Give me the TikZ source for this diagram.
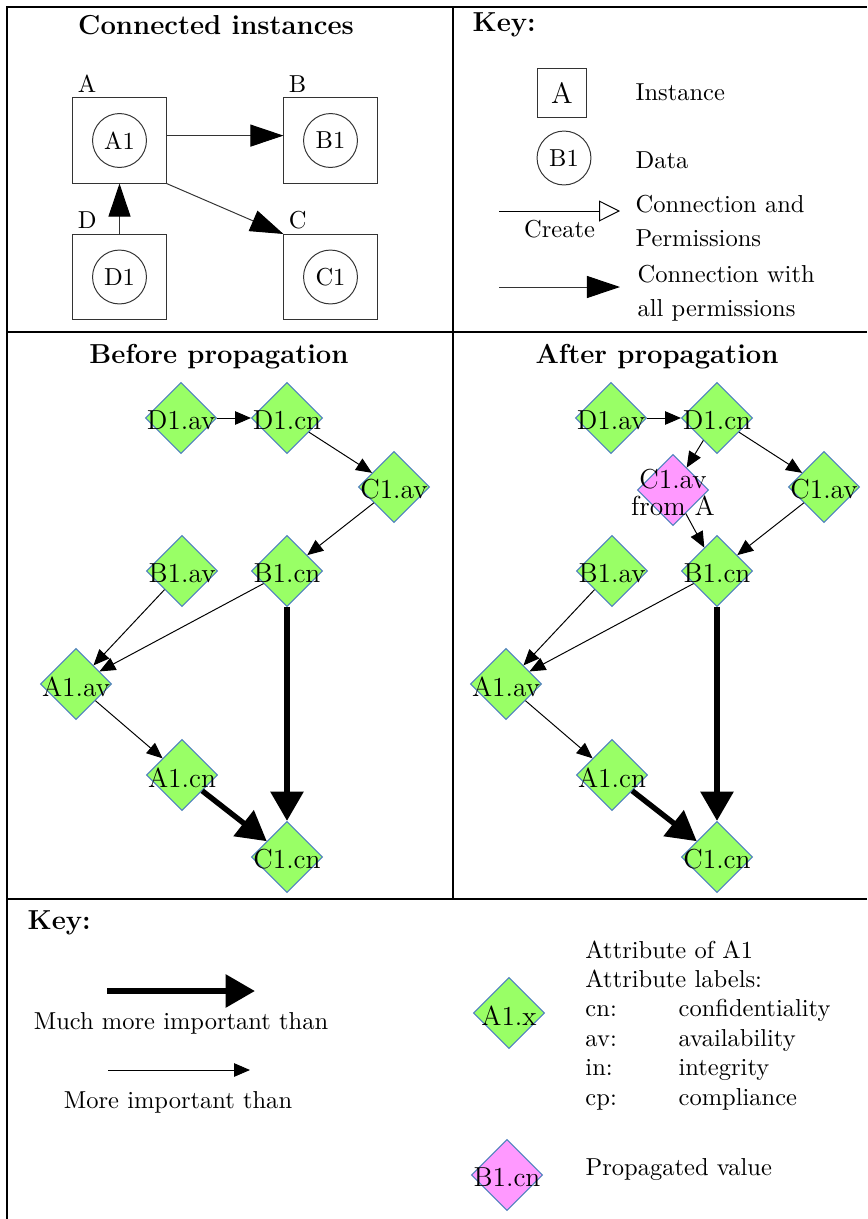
\documentclass[tikz,border=0pt]{standalone}
\usepackage{xcolor}
\usepackage{tikz}
\usetikzlibrary{arrows.meta,shapes.geometric}
\definecolor{attrgreen}{HTML}{99FF66}
\definecolor{attrpink}{HTML}{FF99FF}
\definecolor{attrline}{HTML}{4F81BD}
\tikzset{
  paneltitle/.style={font=\bfseries\fontsize{11.2}{13}\selectfont},
  instbox/.style={draw=black!80, minimum width=38pt, minimum height=34.7pt},
  databox/.style={circle, draw=black!80, minimum size=22pt, inner sep=0pt},
  attr/.style={diamond, draw=attrline, fill=attrgreen, minimum width=29pt,
    minimum height=29pt, inner sep=0pt,
    label={[align=center, inner sep=0pt, yshift=-1pt,
      font=\fontsize{11.2}{11}\selectfont]center:#1}},
  propattr/.style={attr={#1}, fill=attrpink},
  morearrow/.style={-{Triangle[length=6.5pt,width=5.5pt]}, thin},
  mucharrow/.style={-{Triangle[length=12pt,width=13pt]}, line width=2.6pt},
  connarrow/.style={-{Triangle[length=13.5pt,width=9pt,color=black]}, draw=black!80}
}

\begin{document}
\begin{tikzpicture}[x=0.408pt, y=-0.408pt]
  \useasboundingbox (0,0) rectangle (867,1219);

  % table lines
  \draw[line width=0.8pt] (7,1219) -- (7,7) -- (867,7);
  \draw[line width=0.8pt] (7,332) -- (867,332);
  \draw[line width=0.8pt] (7,899) -- (867,899);
  \draw[line width=0.8pt] (453,7) -- (453,899);

  % connected instances
  \node[paneltitle] (conntitle) at (216,25) {Connected instances};
  \node[instbox, label={[anchor=south west, inner sep=2pt]north west:A}] (A) at (119.5,140.5) {};
  \node[instbox, label={[anchor=south west, inner sep=2pt]north west:B}] (B) at (330.5,140.5) {};
  \node[instbox, label={[anchor=south west, inner sep=2pt]north west:C}] (C) at (330.5,277) {};
  \node[instbox, label={[anchor=south west, inner sep=2pt]north west:D}] (D) at (119.5,277) {};
  \node[databox] (A1) at (A) {A1};
  \node[databox] (B1) at (B) {B1};
  \node[databox] (C1) at (C) {C1};
  \node[databox] (D1) at (D) {D1};

  \draw[connarrow] ([yshift=2pt]A.east) -- ([yshift=2pt]B.west);
  \draw[connarrow] (D.north) -- (A.south);
  \draw[connarrow] (A.south east) -- (C.north west);

  % key for instances
  \node[paneltitle, anchor=west] (keytitle) at (464,25) {Key:};
  \node[draw=black!80, minimum size=20pt, font=\large] (keyinst) at (562,93) {A};
  \node[anchor=west] (keyinsttext) at (627,92) {Instance};
  \node[databox] (keydata) at (564,158) {B1};
  \node[anchor=west] (keydatatext) at (627,160) {Data};
  \coordinate (keycs) at (499,211);
  \coordinate (keyce) at (620,211);
  \draw[-{Triangle[open,length=8.5pt,width=8.5pt]}] (keycs) -- node[below, inner sep=3.5pt] {Create} (keyce);
  \node[anchor=west, align=left] (keyconn) at (627,221) {Connection and\\[1.5pt]Permissions};
  \coordinate (keyfs) at (499,287);
  \coordinate (keyfe) at (620,287);
  \draw[connarrow] (keyfs) -- (keyfe);
  \node[anchor=west, align=left] (keyall) at (629,293) {Connection with\\[2pt]all permissions};

  % before propagation
  \node[paneltitle] (beftitle) at (219,357) {Before propagation};
  \node[attr=D1.av] (bdav) at (181,418) {};
  \node[attr=D1.cn] (bdcn) at (287,418) {};
  \node[attr=C1.av] (bcav) at (394,487) {};
  \node[attr=B1.av] (bbav) at (182,571) {};
  \node[attr=B1.cn] (bbcn) at (287,571) {};
  \node[attr=A1.av] (baav) at (76,684) {};
  \node[attr=A1.cn] (bacn) at (182,775) {};
  \node[attr=C1.cn] (bccn) at (287,857) {};

  \draw[morearrow] (bdav) -- (bdcn);
  \draw[morearrow] (bdcn) -- (bcav);
  \draw[morearrow] (bcav) -- (bbcn);
  \draw[morearrow] (bbav) -- (baav);
  \draw[morearrow] (bbcn) -- (baav);
  \draw[morearrow] (baav) -- (bacn);
  \draw[mucharrow] (bbcn) -- (bccn);
  \draw[mucharrow, line width=2.2pt] (bacn) -- (bccn);

  % after propagation
  \node[paneltitle] (afttitle) at (657,357) {After propagation};
  \node[attr=D1.av] (adav) at (611,418) {};
  \node[attr=D1.cn] (adcn) at (717,418) {};
  \node[attr=C1.av] (acav) at (824,487) {};
  \node[propattr={C1.av\\from A}] (apav) at (673,490) {};
  \node[attr=B1.av] (abav) at (612,571) {};
  \node[attr=B1.cn] (abcn) at (717,571) {};
  \node[attr=A1.av] (aaav) at (506,684) {};
  \node[attr=A1.cn] (aacn) at (612,775) {};
  \node[attr=C1.cn] (accn) at (717,857) {};

  \draw[morearrow] (adav) -- (adcn);
  \draw[morearrow] (adcn) -- (acav);
  \draw[morearrow] (adcn) -- (apav);
  \draw[morearrow] (apav) -- (abcn);
  \draw[morearrow] (acav) -- (abcn);
  \draw[morearrow] (abav) -- (aaav);
  \draw[morearrow] (abcn) -- (aaav);
  \draw[morearrow] (aaav) -- (aacn);
  \draw[mucharrow] (abcn) -- (accn);
  \draw[mucharrow, line width=2.2pt] (aacn) -- (accn);

  % key for attributes
  \node[paneltitle, anchor=west] (imptitle) at (19,923) {Key:};
  \coordinate (keyms) at (107,991);
  \coordinate (keyme) at (255,991);
  \draw[mucharrow] (keyms) -- (keyme);
  \node (keymuch) at (181,1023) {Much more important than};
  \coordinate (keyos) at (108,1070);
  \coordinate (keyoe) at (250,1070);
  \draw[morearrow] (keyos) -- (keyoe);
  \node (keymore) at (178,1102) {More important than};

  \node[attr=A1.x] (keyattr) at (509,1013) {};
  \node[anchor=north west, inner sep=0pt] (keylabels) at (585,937) {%
    \begin{tabular}{@{}p{38pt}@{}l@{}}
      \multicolumn{2}{@{}l@{}}{Attribute of A1}\\
      \multicolumn{2}{@{}l@{}}{Attribute labels:}\\
      cn: & confidentiality\\
      av: & availability\\
      in: & integrity\\
      cp: & compliance
    \end{tabular}};
  \node[propattr=B1.cn] (keyprop) at (507,1175) {};
  \node[anchor=west] (keyproptext) at (577,1170) {Propagated value};
\end{tikzpicture}
\end{document}
